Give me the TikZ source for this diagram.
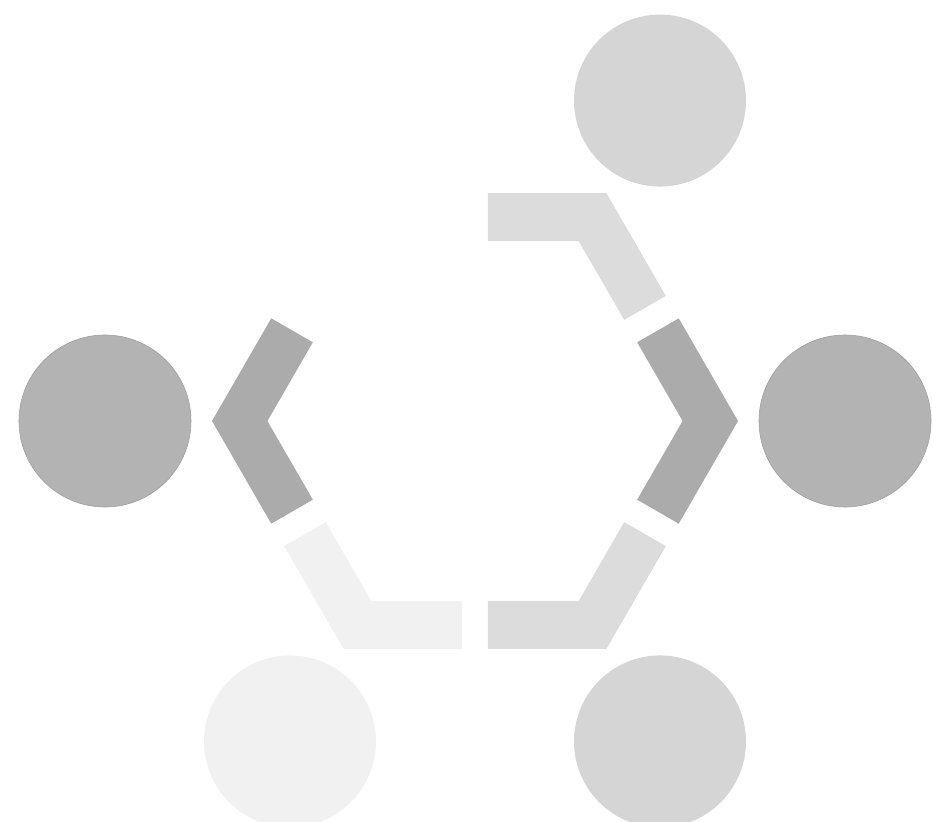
\documentclass[tikz,border=0pt]{standalone}
\usepackage{tikz}
\usetikzlibrary{calc}
\definecolor{dark}{HTML}{ABABAB}
\definecolor{mid}{HTML}{B3B3B3}
\definecolor{pale}{HTML}{D5D5D5}
\definecolor{paler}{HTML}{DCDCDC}
\definecolor{faint}{HTML}{F1F1F1}
\tikzset{band/.style={line width=48pt,line join=miter,line cap=butt},ball/.style={circle,minimum size=172pt,inner sep=0pt}}

\begin{document}
\begin{tikzpicture}[x=1pt,y=1pt]
 \useasboundingbox (-475,-400) rectangle (458,421);
 % balls round the ring
 \foreach \a/\c in {0/mid,60/pale,180/mid,240/faint,300/pale}{\node[ball,fill=\c] (ball\a) at (\a:370) {};}
 \draw[gray!75,line width=.6pt] (ball0) circle (86) (ball180) circle (86);
 % pieces of the ring, one per corner
 \foreach \a/\c in {0/dark,60/paler,180/dark,240/faint,300/paler}{
  \draw[band,draw=\c] ($(\a:235.3)!.445!(\a+60:235.3)$) -- (\a:235.3) -- ($(\a:235.3)!.445!(\a-60:235.3)$);}
\end{tikzpicture}
\end{document}
